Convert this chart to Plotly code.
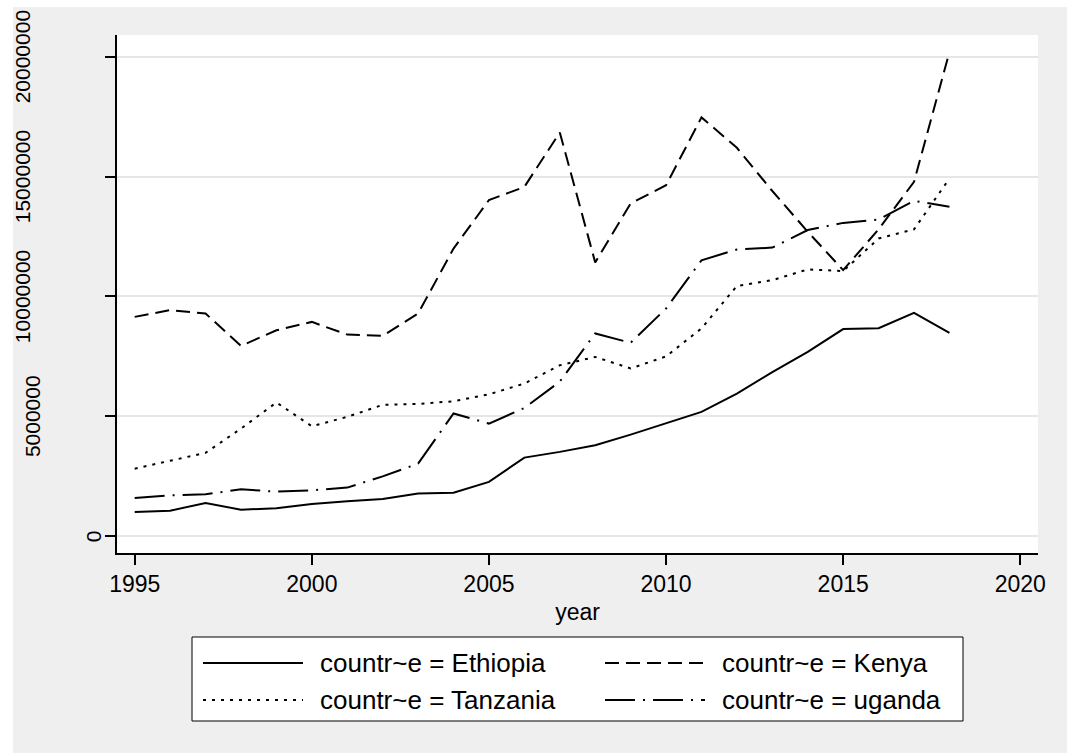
import plotly.graph_objects as go

# Annual series by country, 1995-2018
years = list(range(1995, 2019))
ethiopia = [1010000, 1070000, 1390000, 1110000, 1170000, 1350000, 1460000, 1560000,
            1780000, 1820000, 2270000, 3280000, 3520000, 3800000, 4240000, 4700000,
            5190000, 5950000, 6850000, 7690000, 8640000, 8680000, 9320000, 8480000]
kenya = [9150000, 9430000, 9290000, 7940000, 8590000, 8940000, 8410000, 8360000,
         9290000, 12000000, 14020000, 14570000, 16840000, 11420000, 13880000, 14640000,
         17470000, 16200000, 14400000, 12700000, 11100000, 12800000, 14780000, 20200000]
tanzania = [2820000, 3140000, 3480000, 4490000, 5580000, 4590000, 4980000, 5480000,
            5520000, 5630000, 5920000, 6370000, 7130000, 7480000, 7000000, 7500000,
            8670000, 10440000, 10680000, 11130000, 11060000, 12420000, 12800000, 14920000]
uganda = [1600000, 1710000, 1750000, 1960000, 1860000, 1920000, 2030000, 2500000,
          3030000, 5120000, 4700000, 5350000, 6450000, 8460000, 8070000, 9500000,
          11510000, 11960000, 12040000, 12770000, 13070000, 13210000, 13990000, 13740000]

series_names = ["countr~e = Ethiopia", "countr~e = Kenya",
                "countr~e = Tanzania", "countr~e = uganda"]
x_ticks = [1995, 2000, 2005, 2010, 2015, 2020]
y_ticks = [0, 5000000, 10000000, 15000000, 20000000]
y_tick_labels = [str(v) for v in y_ticks]

W, H = 1067, 753
L, R, T, B = 117, 1038, 35, 553
FONT = "Liberation Sans, Arial, sans-serif"
GREY = "#efefef"

styles = {
    "countr~e = Ethiopia": "solid",
    "countr~e = Kenya": "14px,7px",
    "countr~e = Tanzania": "3px,6px",
    "countr~e = uganda": "30px,8px,2px,8px",
}

fig = go.Figure()
for name, vals in zip(series_names, [ethiopia, kenya, tanzania, uganda]):
    fig.add_trace(go.Scatter(
        x=years, y=vals, mode="lines", name=name, showlegend=False,
        line=dict(color="black", width=2, dash=styles[name]),
    ))


def px_x(p):
    return (p - L) / (R - L)


def px_y(p):
    return (B - p) / (B - T)


shapes = [
    # white strips along the top and left edges of the page
    dict(type="rect", xref="paper", yref="paper", x0=px_x(0), x1=px_x(W),
         y0=px_y(7), y1=px_y(0), fillcolor="white", line=dict(width=0), layer="below"),
    dict(type="rect", xref="paper", yref="paper", x0=px_x(0), x1=px_x(13),
         y0=px_y(H), y1=px_y(0), fillcolor="white", line=dict(width=0), layer="below"),
    # legend box
    dict(type="rect", xref="paper", yref="paper", x0=px_x(192), x1=px_x(963),
         y0=px_y(721), y1=px_y(637), fillcolor="white",
         line=dict(color="black", width=1)),
]

annotations = []

# vertical value labels on the y axis, shifted left in proportion to their length
Y_LABEL_SIZE = 21
for val, lab in zip(y_ticks, y_tick_labels):
    w = len(lab) * 0.556 * Y_LABEL_SIZE
    cx = 103 - 0.86 * w
    annotations.append(dict(text=lab, xref="paper", yref="y", x=px_x(cx), y=val,
                            xanchor="center", yanchor="middle", textangle=-90,
                            showarrow=False,
                            font=dict(family=FONT, size=Y_LABEL_SIZE, color="black")))

legend_slots = [(203, 663), (605, 663), (203, 700), (605, 700)]
legend_order = ["countr~e = Ethiopia", "countr~e = Kenya",
                "countr~e = Tanzania", "countr~e = uganda"]
for name, (sx, sy) in zip(legend_order, legend_slots):
    shapes.append(dict(type="line", xref="paper", yref="paper",
                       x0=px_x(sx), x1=px_x(sx + 100), y0=px_y(sy), y1=px_y(sy),
                       line=dict(color="black", width=2, dash=styles[name])))
    annotations.append(dict(text=name, xref="paper", yref="paper",
                            x=px_x(sx + 115), y=px_y(sy), xanchor="left", yanchor="middle",
                            showarrow=False, font=dict(family=FONT, size=26, color="black")))

fig.update_layout(
    width=W, height=H,
    margin=dict(l=L, r=W - R, t=T, b=H - B, autoexpand=False),
    paper_bgcolor=GREY, plot_bgcolor="white",
    font=dict(family=FONT, size=22, color="black"),
    shapes=shapes, annotations=annotations,
    showlegend=False,
)
fig.update_xaxes(
    range=[1994.5, 2020.5], tickvals=x_ticks, ticktext=[str(t) for t in x_ticks],
    tickfont=dict(size=23),
    showgrid=False, zeroline=False, showline=True, linecolor="black", linewidth=1.5,
    ticks="outside", ticklen=10, tickwidth=1.5, tickcolor="black",
    title=dict(text="year", standoff=8, font=dict(size=23)), mirror=False,
)
fig.update_yaxes(
    range=[-697000, 20905000], tickvals=y_ticks, showticklabels=False,
    showgrid=True, gridcolor="#e6e6e6", gridwidth=2,
    zeroline=False, showline=True, linecolor="black", linewidth=1.5,
    ticks="outside", ticklen=10, tickwidth=1.5, tickcolor="black", mirror=False,
)

fig.write_html("out.html")
